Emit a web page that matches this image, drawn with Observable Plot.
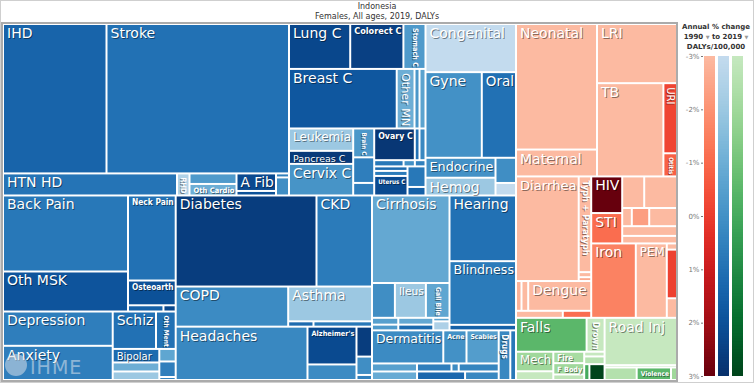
<!DOCTYPE html>
<html><head><meta charset="utf-8">
<script src="https://cdn.jsdelivr.net/npm/d3@7"></script>
<script src="https://cdn.jsdelivr.net/npm/@observablehq/plot@0.6"></script>
<style>
html,body{margin:0;padding:0;background:#fff;}
#wrap{position:relative;width:754px;height:383px;overflow:hidden;font-family:"DejaVu Sans",sans-serif;}
#title{position:absolute;left:0;top:2px;width:754px;text-align:center;font-size:8px;line-height:10px;color:#333;}
#tm{position:absolute;left:0;top:20px;}
#lg{position:absolute;left:680px;top:20px;}
#frame{position:absolute;left:1px;top:22px;width:677px;height:360px;box-sizing:border-box;border:2px solid #ababab;}
#lgtitle{position:absolute;left:677px;top:22px;width:78px;text-align:center;font-size:7px;font-weight:bold;line-height:10px;color:#333;}
#lgtitle .tri{color:#999;font-size:5px;font-weight:normal;}
#logo{position:absolute;left:5px;top:354px;width:22px;height:22px;border-radius:50%;background:rgba(215,222,232,0.55);}
#logotxt{position:absolute;left:30px;top:356px;font-size:19px;line-height:22px;letter-spacing:1px;color:rgba(225,230,238,0.55);}
#outer{position:absolute;left:0;top:0;width:754px;height:383px;box-sizing:border-box;border:1px solid #cfcfcf;pointer-events:none;}
</style></head>
<body>
<div id="wrap">
  <div id="title">Indonesia<br>Females, All ages, 2019, DALYs</div>
  <div id="tm"></div>
  <div id="frame"></div>
  <div id="lg"></div>
  <div id="lgtitle">Annual % change<br>1990 <span class="tri">▼</span> to 2019 <span class="tri">▼</span><br>DALYs/100,000</div>
  <div id="logo"></div>
  <div id="logotxt">IHME</div>
  <div id="outer"></div>
</div>
<script>
// Non-communicable diseases (blue)
const ncdGroup = [
"top/cv/t","top/cv/t",
"top/cv/b","top/cv/b","top/cv/b/oc","top/cv/b/oc","top/cv/b/af","top/cv/b/af","top/cv/b/sm","top/cv/b/sm",
"top/neo/r1","top/neo/r1","top/neo/r1",
"top/neo/r2","top/neo/r2","top/neo/r2","top/neo/r2",
"top/neo/r3/a","top/neo/r3/a","top/neo/r3/a",
"top/neo/r3/b","top/neo/r3/b","top/neo/r3/b",
"top/neo/r3/c/t","top/neo/r3/c/t","top/neo/r3/c/t",
"top/neo/r3/c/s","top/neo/r3/c/s","top/neo/r3/c/s",
"top/neo/r3/c/b/l","top/neo/r3/c/b/l","top/neo/r3/c/b/l",
"top/neo/r3/c/b/r","top/neo/r3/c/b/r",
"top/oth","top/oth/o2","top/oth/o2","top/oth/o3/a","top/oth/o3/a","top/oth/o3/b","top/oth/o3/b",
"bot/ca/msk/a","bot/ca/msk/a","bot/ca/msk/b","bot/ca/msk/b","bot/ca/msk/b/s","bot/ca/msk/b/s",
"bot/ca/men/a","bot/ca/men/a","bot/ca/men/b/r1","bot/ca/men/b/r1",
"bot/ca/men/b/r2/l","bot/ca/men/b/r2/l","bot/ca/men/b/r2/l","bot/ca/men/b/r2/r","bot/ca/men/b/r2/r","bot/ca/men/b/r2/r",
"bot/cb/dk","bot/cb/dk","bot/cb/rs","bot/cb/rs/as","bot/cb/rs/as/s","bot/cb/rs/as/s",
"bot/cb/nu","bot/cb/nu/az","bot/cb/nu/az","bot/cb/nu/r","bot/cb/nu/r","bot/cb/nu/r",
"bot/cc/ds/dg","bot/cc/ds/dg/r2","bot/cc/ds/dg/r2","bot/cc/ds/dg/r2",
"bot/cc/ds/dg/r3/q1","bot/cc/ds/dg/r3/q1","bot/cc/ds/dg/r3/q2","bot/cc/ds/dg/r3/q2","bot/cc/ds/dg/r3/q3","bot/cc/ds/dg/r3/q3",
"bot/cc/ds/se","bot/cc/ds/se","bot/cc/ds/se",
"bot/cc/sk/skn/r1","bot/cc/sk/skn/r1","bot/cc/sk/skn/r1",
"bot/cc/sk/skn/r2","bot/cc/sk/skn/r2","bot/cc/sk/skn/r2","bot/cc/sk/skn/r2",
"bot/cc/sk/skn/r3","bot/cc/sk/skn/r3","bot/cc/sk/skn/r3",
"bot/cc/sk","bot/cc/sk"];
const ncdCause = ["IHD","Stroke","HTN HD","RHD","","Oth Cardio","A Fib","","","",
"Lung C","Colorect C","Stomach C","Breast C","Other MN","","",
"Leukemia","Pancreas C","Cervix C","Brain C","","",
"Ovary C","","","","","","","","Uterus C","","",
"Congenital","Gyne","Oral","Endocrine","Hemog","","",
"Back Pain","Oth MSK","Neck Pain","Osteoarth","","",
"Depression","Anxiety","Schiz","Oth Ment","Bipolar","","","","","",
"Diabetes","CKD","COPD","Asthma","","","Headaches","Alzheimer's","","","","",
"Cirrhosis","","Ileus","Gall Blle","","","","","","",
"Hearing","Blindness","","Dermatitis","Acne","Scabies","","","","","","","","Drugs",""];
const ncdDalys = [15422,27193,3828,275,494,540,691,178,52,234,
2742,2383,990,6397,1057,297,356,
1432,835,2022,605,536,263,
1283,149,190,182,70,66,150,167,649,369,153,
4344,4808,2921,1393,1239,515,256,
9475,4988,4045,1178,220,76,
3752,3741,1615,735,629,419,396,205,254,49,
12785,5039,4500,2908,134,310,7012,1847,760,463,284,78,
6766,795,1076,819,179,150,238,200,57,146,
4356,4223,366,2353,766,1063,360,276,58,320,383,408,286,574,282];
const ncdChange = [1.4,1.0,0.9,-2.5,-0.3,-1.0,2.2,2.0,0.5,0.1,
2.3,2.5,-0.3,1.8,-1.0,-0.2,-0.6,
-2.0,2.7,-0.1,-0.2,0.6,0.6,
2.8,1.0,0.3,0.8,0.0,0.5,1.2,0.7,2.2,0.8,1.5,
-3,0.0,1.0,0.0,-2.0,0.1,-3,
0.8,1.9,1.0,2.0,1.5,2.3,
0.6,0.6,1.0,1.0,1.2,-1.0,-2.0,-0.7,0.6,0.5,
2.6,0.7,0.2,-2.0,1.2,0.8,0.3,2.2,0.2,2.6,0.1,0.5,
-0.8,0.1,-2.0,-0.7,-0.5,-0.3,-0.8,1.2,-0.6,-2.4,
1.0,0.7,1.5,0.2,0.0,-0.4,-0.5,0.6,0.2,0.4,-0.9,1.3,0.3,0.3,0.8];

// Communicable, maternal, neonatal and nutritional (red)
const cmnnGroup = ["top/mn","top/mn","top/ri","top/ri/tb","top/ri/tb/ur","top/ri/tb/ur",
"bot/l/en","bot/l/en/ty","bot/l/en/ty","bot/l/en/ty","bot/l/nt","bot/l/nt","bot/l/nt","bot/l/bs","bot/l/bs",
"bot/r/hv/hc","bot/r/hv/hc","bot/r/hv/hr/h1","bot/r/hv/hr/h1","bot/r/hv/hr/h2","bot/r/hv/hr/h2","bot/r/hv/hr/h2","bot/r/hv/hr","bot/r/hv/hr",
"bot/r/ir","bot/r/ir","bot/r/ir/it","bot/r/ir/it","bot/r/ir/it"];
const cmnnCause = ["Neonatal","Maternal","LRI","TB","URI","Otitis",
"Diarrhea","Typh + Paratyph","","","","","Dengue","","",
"HIV","STI","","","","","","","",
"Iron","PEM","","",""];
const cmnnDalys = [10141,2171,4720,6175,951,314,6540,1194,63,48,163,199,1871,328,199,1132,939,693,1033,174,315,503,532,411,3309,2300,63,495,199];
const cmnnChange = [-3,-3,-3,-3,-0.2,-0.8,-3,-3,-3,-2.6,-2.8,-3,-3,-3,-1.1,3,-1.1,-3,-3,-3,-2.3,-3,-3,-3,-1.6,-3,-3,-0.1,-3];

// Injuries (green)
const injGroup = ["l/r1","l/r1","l/r2/m","l/r2/m","l/r2/f","l/r2/f","l/r2/f","l/r2/g","l/r2/g","l/r2/g/b","l/r2/g/b","r","r","r/b","r/b","r/b"];
const injCause = ["Falls","Drown","Mech","","Fire","F Body","","","","","","Road Inj","","","Violence",""];
const injDalys = [2386,608,727,325,352,349,170,96,157,82,240,3417,167,401,429,75];
const injChange = [-0.5,-3,-2.0,-3,-2.2,-2.0,-2.8,-3,-2.6,0.0,3,-3,-2.2,-2.5,-0.5,-2.0];

const legendTicks = [-3,-2,-1,0,1,2,3];

// ---------------- HIERARCHY ----------------
const tree = {name: "root", children: []};
function addFamily(prefix, groups, causes, vals, chg, fam) {
  groups.forEach((g, i) => {
    let node = tree;
    for (const s of (prefix + "/" + g).split("/")) {
      let c = node.children.find(c => c.children && c.name === s);
      if (!c) { c = {name: s, children: []}; node.children.push(c); }
      node = c;
    }
    node.children.push({name: causes[i], value: vals[i], change: chg[i], fam});
  });
}
addFamily("NCD", ncdGroup, ncdCause, ncdDalys, ncdChange, "ncd");
addFamily("Other/CMNN/cmx", cmnnGroup, cmnnCause, cmnnDalys, cmnnChange, "cmnn");
addFamily("Other/Injuries", injGroup, injCause, injDalys, injChange, "inj");

const W = 672, H = 354;
const root = d3.hierarchy(tree).sum(d => d.children ? 0 : d.value);
d3.treemap().tile(d3.treemapSliceDice).size([W, H]).paddingInner(2)(root);

const interp = {ncd: d3.interpolateBlues, cmnn: d3.interpolateReds, inj: d3.interpolateGreens};
const tOf = c => 0.25 + 0.75 * (Math.max(-3, Math.min(3, c)) + 3) / 6;

const cells = root.leaves().map(n => ({
  x0: n.x0, x1: n.x1, y0: n.y0, y1: n.y1,
  name: n.data.name, color: interp[n.data.fam](tOf(n.data.change))
}));

const ctx = document.createElement("canvas").getContext("2d");
const FONT_BIG = '"DejaVu Sans", sans-serif';
const FONT_SMALL = '"DejaVu Sans Condensed", "DejaVu Sans", sans-serif';
const measure = (s, f, wt) => { ctx.font = `${wt} 100px ${f}`; return ctx.measureText(s).width / 100; };

function fit(d, f, wt) {
  const w = d.x1 - d.x0, h = d.y1 - d.y0, tw = measure(d.name, f, wt);
  const fh = Math.min(14, (w - 4) / tw, (h - 1) * 0.95);
  const fv = Math.min(14, (h - 4) / tw, (w - 1) * 0.95);
  if (fh >= 6 || fh >= fv) return {fs: fh, rot: false};
  return {fs: fv, rot: true};
}

const groupsLbl = {bh: [], bv: [], sh: [], sv: []};
for (const d of cells) {
  if (!d.name) continue;
  let r = fit(d, FONT_BIG, "normal");
  let small = false;
  if (r.fs < 9.5) { r = fit(d, FONT_SMALL, "bold"); small = true; }
  const item = {...d, fs: r.fs, lx: r.rot ? (d.x0 + d.x1) / 2 : d.x0 + 2.5, ly: d.y0 + 2.5};
  groupsLbl[(small ? "s" : "b") + (r.rot ? "v" : "h")].push(item);
}

function labelMarks(data, rot, family, weight) {
  const common = {x: "lx", y: "ly", text: "name", fontSize: d => d.fs, textAnchor: "start",
    lineAnchor: rot ? "middle" : "top", fontFamily: family, fontWeight: weight};
  if (rot) common.rotate = 90;
  return [
    Plot.text(data, {...common, fill: "#000", fillOpacity: 0.45, dx: rot ? -1 : 1, dy: 1}),
    Plot.text(data, {...common, fill: "white"})
  ];
}

const tm = Plot.plot({
  width: 680, height: 363, margin: 0,
  x: {domain: [0, W], range: [4, 4 + W], axis: null},
  y: {domain: [0, H], range: [5, 5 + H], axis: null},
  color: {type: "identity"},
  style: {fontFamily: FONT_BIG, background: "transparent"},
  marks: [
    Plot.rect(cells, {x1: "x0", x2: "x1", y1: "y0", y2: "y1", fill: "color"}),
    ...labelMarks(groupsLbl.bh, false, FONT_BIG, "normal"),
    ...labelMarks(groupsLbl.bv, true, FONT_BIG, "normal"),
    ...labelMarks(groupsLbl.sh, false, FONT_SMALL, "bold"),
    ...labelMarks(groupsLbl.sv, true, FONT_SMALL, "bold")
  ]
});
document.getElementById("tm").appendChild(tm);

// ---------------- LEGEND (colour ramps of the three scales) ----------------
const stepSize = 0.05;
const ramp = d3.range(-3, 3, stepSize);
const famKeys = ["cmnn", "ncd", "inj"];
const lgData = famKeys.flatMap(k => ramp.map(v => ({k, v, v2: v + stepSize * 1.3, c: interp[k](tOf(v + stepSize / 2))})));
const lg = Plot.plot({
  width: 74, height: 363, marginTop: 36, marginBottom: 7, marginLeft: 23, marginRight: 9,
  x: {type: "band", domain: famKeys, axis: null, paddingInner: 0.18, paddingOuter: 0},
  y: {domain: [-3, 3], range: [36, 356], ticks: legendTicks.length - 1, tickFormat: d => d + "%", tickSize: 2, tickPadding: 2, label: null},
  color: {type: "identity"},
  style: {fontFamily: FONT_BIG, fontSize: "7px", color: "#777", background: "transparent"},
  marks: [
    Plot.barY(lgData, {x: "k", y1: "v", y2: d => Math.min(3, d.v2), fill: "c"})
  ]
});
document.getElementById("lg").appendChild(lg);
</script>
</body></html>
